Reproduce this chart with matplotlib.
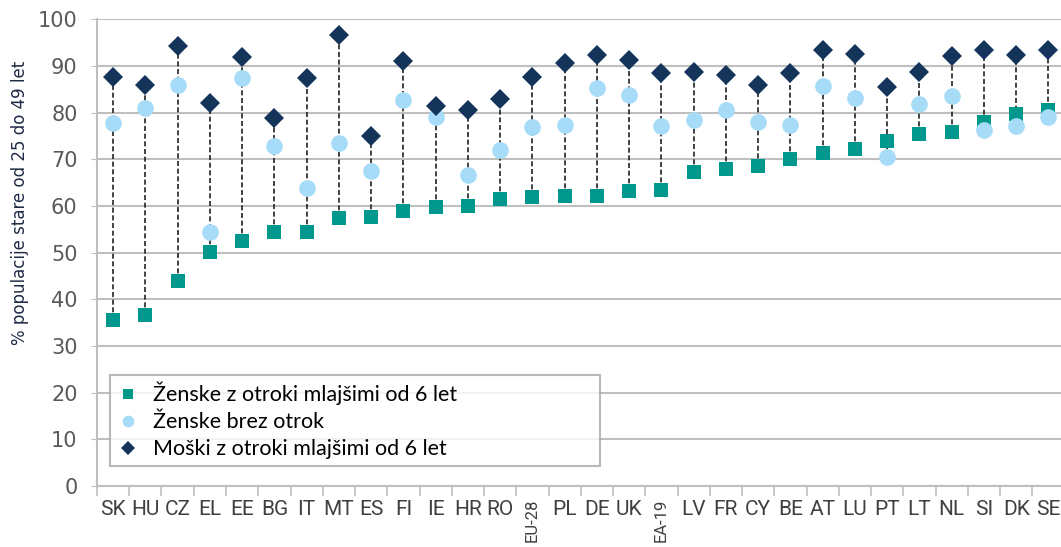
import matplotlib
matplotlib.use("Agg")
import matplotlib.pyplot as plt
import numpy as np

countries = ["SK", "HU", "CZ", "EL", "EE", "BG", "IT", "MT", "ES", "FI",
             "IE", "HR", "RO", "EU-28", "PL", "DE", "UK", "EA-19", "LV", "FR",
             "CY", "BE", "AT", "LU", "PT", "LT", "NL", "SI", "DK", "SE"]

women_kids = [35.5, 36.6, 43.9, 50.1, 52.5, 54.4, 54.4, 57.4, 57.6, 58.9,
              59.7, 60.0, 61.4, 61.8, 62.1, 62.1, 63.2, 63.5, 67.2, 67.8,
              68.6, 70.0, 71.4, 72.1, 73.9, 75.3, 75.9, 77.9, 79.7, 80.5]

women_nokids = [77.7, 80.9, 85.9, 54.4, 87.4, 72.8, 63.8, 73.4, 67.5, 82.7,
                79.0, 66.6, 71.9, 77.0, 77.4, 85.3, 83.8, 77.1, 78.3, 80.5,
                78.0, 77.4, 85.7, 83.2, 70.5, 81.8, 83.6, 76.2, 77.1, 79.0]

men_kids = [87.6, 85.9, 94.2, 82.0, 91.9, 78.8, 87.4, 96.6, 74.9, 91.0,
            81.4, 80.5, 82.9, 87.6, 90.7, 92.4, 91.2, 88.5, 88.7, 88.0,
            85.9, 88.4, 93.4, 92.6, 85.4, 88.6, 92.1, 93.4, 92.3, 93.4]

labels = ["Ženske z otroki mlajšimi od 6 let", "Ženske brez otrok",
          "Moški z otroki mlajšimi od 6 let"]

c_sq = "#00988c"
c_ci = "#a6dcf7"
c_di = "#14345a"

fig = plt.figure(figsize=(10.61, 5.47), dpi=100)
ax = fig.add_axes([0.0914, 0.1115, 0.912, 0.8535])

x = np.arange(len(countries))
lo = np.minimum(np.minimum(women_kids, women_nokids), men_kids)
hi = np.maximum(np.maximum(women_kids, women_nokids), men_kids)
ax.vlines(x, lo, hi, colors="#222222", linestyles=(0, (3, 1.6)), linewidth=1.2, zorder=2)

ax.plot(x, women_kids, "s", color=c_sq, markersize=10, markeredgewidth=0, zorder=3, label=labels[0])
ax.plot(x, women_nokids, "o", color=c_ci, markersize=12, markeredgewidth=0, zorder=4, label=labels[1])
ax.plot(x, men_kids, "D", color=c_di, markersize=10.5, markeredgewidth=0, zorder=5, label=labels[2])

ax.set_xlim(-0.5, len(countries) - 0.5)
ax.set_ylim(0, 100)
ax.set_yticks(np.arange(0, 101, 10))
ax.yaxis.grid(True, color="#bfbfbf", linewidth=1.5)
ax.set_axisbelow(True)

for s in ["top", "right"]:
    ax.spines[s].set_visible(False)
for s in ["left", "bottom"]:
    ax.spines[s].set_color("#bfbfbf")
    ax.spines[s].set_linewidth(1.5)

ax.tick_params(axis="y", length=4, color="#bfbfbf", labelsize=15, labelcolor="#595959", pad=10)
for t in ax.get_yticklabels():
    t.set_fontfamily("DejaVu Sans")

# ticks between categories, labels at centres
ax.set_xticks(np.arange(-0.5, len(countries), 1))
ax.set_xticklabels([])
ax.tick_params(axis="x", length=7, color="#bfbfbf", width=1.2)
for i, c in enumerate(countries):
    if "-" in c:
        ax.text(i, -2.6, c, rotation=90, ha="center", va="top", fontsize=12,
                family="Roboto", color="#404040")
    else:
        ax.text(i, -3.0, c, ha="center", va="top", fontsize=15,
                family="Roboto", color="#404040")

fig.text(0.019, 0.629, "% populacije stare od 25 do 49 let", rotation=90, fontsize=12,
         color="#1f2a44", family="DejaVu Sans", ha="center", va="center")

leg = ax.legend(loc="lower left", bbox_to_anchor=(0.0134, 0.043, 0.506, 0.2), mode="expand",
                borderaxespad=0, prop={"family": "Lato", "size": 15.5},
                frameon=True, fancybox=False, edgecolor="#a6a6a6", handletextpad=0.6,
                borderpad=0.3, labelspacing=0.33, markerscale=0.7, handlelength=1.1)
leg.get_frame().set_linewidth(1.5)

fig.savefig("out.png", dpi=100)
